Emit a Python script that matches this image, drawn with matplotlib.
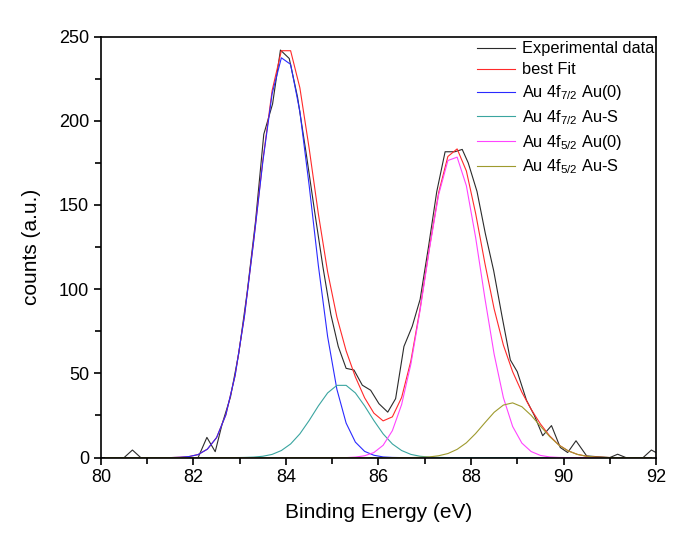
import matplotlib
matplotlib.use("Agg")
import matplotlib.pyplot as plt
from matplotlib.ticker import MultipleLocator

plt.rcParams["font.family"] = ["Liberation Sans", "DejaVu Sans"]
plt.rcParams["mathtext.default"] = "regular"

# experimental spectrum
exp_x = [80.0, 80.5, 80.68, 80.86, 82.1, 82.29, 82.47, 82.62, 82.8, 82.98,
         83.16, 83.34, 83.52, 83.71, 83.88, 84.07, 84.25, 84.44, 84.62, 84.8,
         84.97, 85.13, 85.3, 85.47, 85.65, 85.83, 86.01, 86.2, 86.37, 86.55,
         86.73, 86.9, 87.08, 87.26, 87.44, 87.65, 87.81, 87.94, 88.13, 88.31,
         88.49, 88.67, 88.85, 89.0, 89.2, 89.37, 89.55, 89.74, 89.93, 90.09,
         90.27, 90.5, 91.0, 91.17, 91.35, 91.72, 91.9, 92.0]
exp_y = [0, 0, 4.5, 0, 0, 12, 3.5, 20, 36, 62,
         98, 140, 192, 210, 242, 237, 214, 180, 146, 113,
         85, 66, 53, 52, 43, 40, 32, 27, 35, 66,
         78, 94, 125, 158, 181.6, 181.6, 183, 175, 158, 133,
         111, 84, 58, 51, 34, 25, 13, 19, 6, 3,
         10, 1, 0, 2, 0, 0, 4.5, 3]

# fitted curves, sampled every 0.2 eV
fit_x = [80.1, 80.3, 80.5, 80.7, 80.9, 81.1, 81.3, 81.5, 81.7, 81.9,
         82.1, 82.3, 82.5, 82.7, 82.9, 83.1, 83.3, 83.5, 83.7, 83.9,
         84.1, 84.3, 84.5, 84.7, 84.9, 85.1, 85.3, 85.5, 85.7, 85.9,
         86.1, 86.3, 86.5, 86.7, 86.9, 87.1, 87.3, 87.5, 87.7, 87.9,
         88.1, 88.3, 88.5, 88.7, 88.9, 89.1, 89.3, 89.5, 89.7, 89.9,
         90.1, 90.3, 90.5, 90.7, 90.9, 91.1, 91.3, 91.5, 91.7, 91.9]
au0_72 = [0, 0, 0, 0, 0, 0, 0, 0, 0.2, 0.6,
          1.8, 5.0, 11.9, 25.4, 48.7, 83.6, 128.2, 175.8, 216.0, 237.4,
          233.5, 205.5, 161.8, 114.0, 71.9, 40.6, 20.5, 9.2, 3.7, 1.4,
          0.4, 0.1, 0, 0, 0, 0, 0, 0, 0, 0,
          0, 0, 0, 0, 0, 0, 0, 0, 0, 0,
          0, 0, 0, 0, 0, 0, 0, 0, 0, 0]
aus_72 = [0, 0, 0, 0, 0, 0, 0, 0, 0, 0,
          0, 0, 0, 0, 0, 0.1, 0.3, 0.8, 1.9, 4.2,
          8.1, 14.1, 22.0, 30.7, 38.4, 42.9, 42.9, 38.4, 30.7, 22.0,
          14.1, 8.1, 4.2, 1.9, 0.8, 0.3, 0.1, 0, 0, 0,
          0, 0, 0, 0, 0, 0, 0, 0, 0, 0,
          0, 0, 0, 0, 0, 0, 0, 0, 0, 0]
au0_52 = [0, 0, 0, 0, 0, 0, 0, 0, 0, 0,
          0, 0, 0, 0, 0, 0, 0, 0, 0, 0,
          0, 0, 0, 0, 0, 0, 0, 0.3, 1.1, 3.0,
          7.3, 16.0, 31.5, 55.5, 87.6, 123.7, 156.1, 176.4, 178.4, 161.4,
          130.7, 94.7, 61.4, 35.6, 18.5, 8.6, 3.6, 1.3, 0.4, 0.1,
          0, 0, 0, 0, 0, 0, 0, 0, 0, 0]
aus_52 = [0, 0, 0, 0, 0, 0, 0, 0, 0, 0,
          0, 0, 0, 0, 0, 0, 0, 0, 0, 0,
          0, 0, 0, 0, 0, 0, 0, 0, 0, 0,
          0, 0, 0, 0, 0.2, 0.4, 1.1, 2.4, 4.9, 8.8,
          14.3, 20.7, 26.9, 31.2, 32.5, 30.2, 25.1, 18.7, 12.5, 7.4,
          4.0, 1.9, 0.8, 0.3, 0.1, 0, 0, 0, 0, 0]
best_fit = [0, 0, 0, 0, 0, 0, 0, 0, 0.2, 0.6,
            1.8, 5.0, 11.9, 25.4, 48.7, 83.7, 128.5, 176.6, 217.9, 241.6,
            241.6, 219.6, 183.8, 144.7, 110.3, 83.5, 63.4, 47.9, 35.5, 26.4,
            21.8, 24.2, 35.7, 57.4, 88.6, 124.4, 157.3, 178.8, 183.3, 170.2,
            145.0, 115.4, 88.3, 66.8, 51.0, 38.8, 28.7, 20.0, 12.9, 7.5,
            4.0, 1.9, 0.8, 0.3, 0.1, 0, 0, 0, 0, 0]

fig = plt.figure(figsize=(6.85, 5.5), dpi=100)
ax = fig.add_axes([0.1474, 0.168, 0.8103, 0.7655])

lw = 0.8
ax.plot(exp_x, exp_y, color="#2b2b2b", lw=lw, label="Experimental data")
ax.plot(fit_x, best_fit, color="#ff2a2a", lw=lw, label="best Fit")
ax.plot(fit_x, au0_72, color="#2a2aff", lw=lw, label=r"Au 4f$_{7/2}$ Au(0)")
ax.plot(fit_x, aus_72, color="#3aa5a0", lw=lw, label=r"Au 4f$_{7/2}$ Au-S")
ax.plot(fit_x, au0_52, color="#ff44ff", lw=lw, label=r"Au 4f$_{5/2}$ Au(0)")
ax.plot(fit_x, aus_52, color="#9e9a2e", lw=lw, label=r"Au 4f$_{5/2}$ Au-S")

ax.set_xlim(80, 92)
ax.set_ylim(0, 250)
ax.xaxis.set_major_locator(MultipleLocator(2))
ax.xaxis.set_minor_locator(MultipleLocator(1))
ax.yaxis.set_major_locator(MultipleLocator(50))
ax.yaxis.set_minor_locator(MultipleLocator(25))
ax.tick_params(which="both", direction="out", width=1.2, labelsize=13)
ax.tick_params(which="major", length=5)
ax.tick_params(which="minor", length=4)
for s in ax.spines.values():
    s.set_linewidth(1.2)

ax.set_xlabel("Binding Energy (eV)", fontsize=15, labelpad=12)
ax.set_ylabel("counts (a.u.)", fontsize=15, labelpad=13)

leg = ax.legend(loc="upper right", bbox_to_anchor=(1.006, 1.0),
                borderaxespad=0, fontsize=11.8,
                handlelength=2.3, handletextpad=0.45, labelspacing=0.36,
                borderpad=0.3, frameon=False)

fig.savefig("out.png", dpi=100)
